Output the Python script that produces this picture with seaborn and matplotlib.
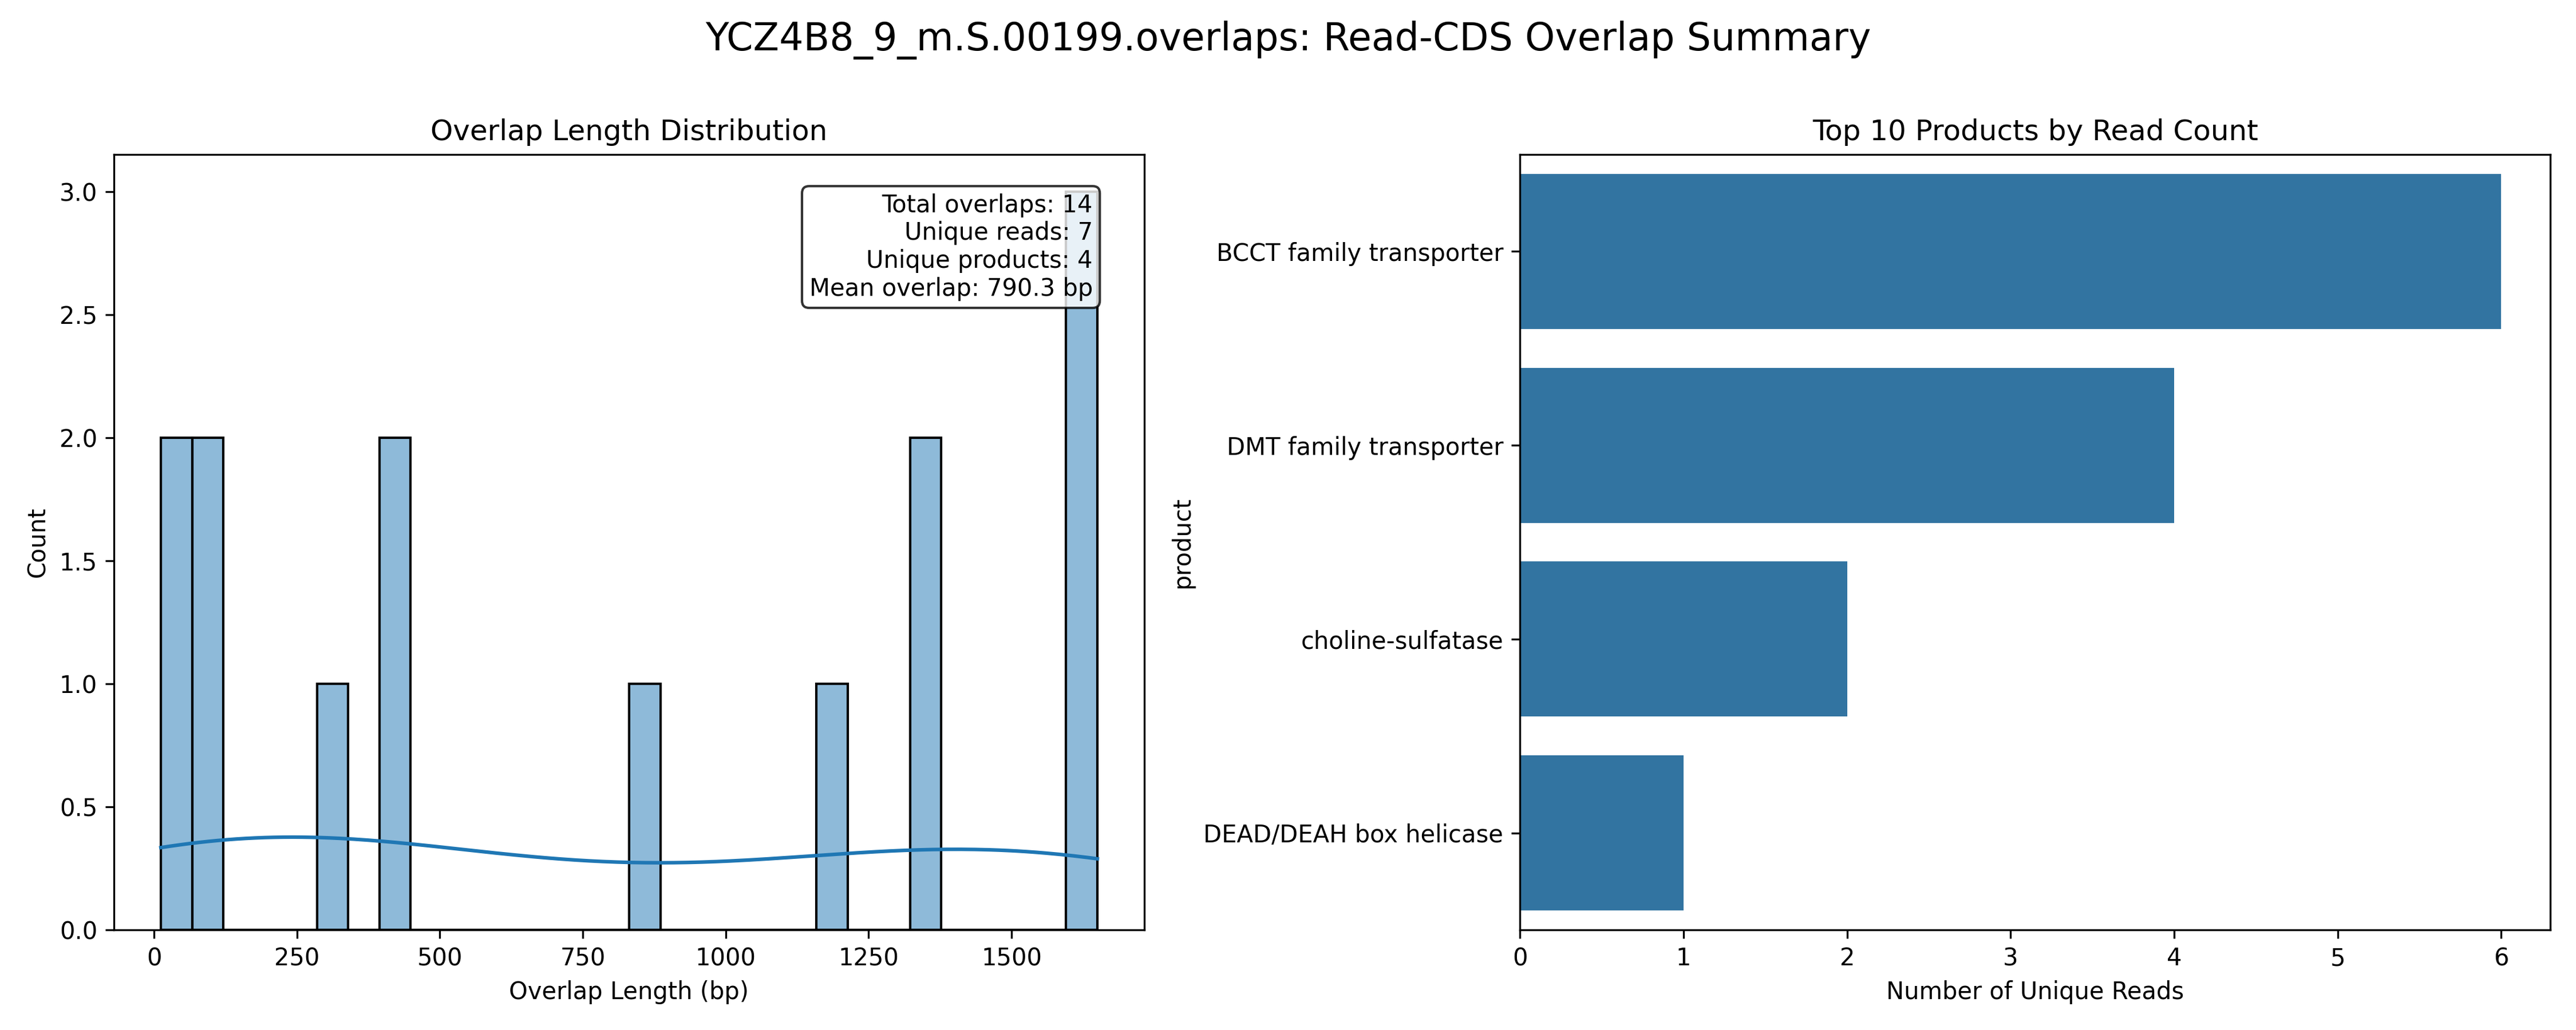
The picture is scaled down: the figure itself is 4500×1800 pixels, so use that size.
import matplotlib
matplotlib.use("Agg")
import matplotlib.pyplot as plt
import seaborn as sns
import pandas as pd
import numpy as np

overlap_lengths = [12, 40, 80, 100, 310, 410, 430, 860, 1190, 1350, 1372, 1620, 1640, 1650]
products = ["BCCT family transporter", "DMT family transporter", "choline-sulfatase", "DEAD/DEAH box helicase"]
read_counts = [6, 4, 2, 1]
n_reads = 7

fig, axes = plt.subplots(1, 2, figsize=(15, 6), dpi=300)
ax = axes[0]
sns.histplot(x=overlap_lengths, bins=30, kde=True, ax=ax)
ax.set_title("Overlap Length Distribution")
ax.set_xlabel("Overlap Length (bp)")
ax.set_ylabel("Count")
txt = (f"Total overlaps: {len(overlap_lengths)}\nUnique reads: {n_reads}\n"
       f"Unique products: {len(products)}\nMean overlap: {np.mean(overlap_lengths):.1f} bp")
ax.text(0.95, 0.95, txt, transform=ax.transAxes, ha="right", va="top",
        bbox=dict(boxstyle="round", facecolor="white", alpha=0.8))

df = pd.DataFrame({"product": products, "count": read_counts})
sns.barplot(data=df, y="product", x="count", ax=axes[1], color="#1f77b4")
axes[1].set_title("Top 10 Products by Read Count")
axes[1].set_xlabel("Number of Unique Reads")

fig.suptitle("YCZ4B8_9_m.S.00199.overlaps: Read-CDS Overlap Summary", fontsize=16)
plt.tight_layout()
fig.subplots_adjust(top=0.85)
fig.savefig("out.png")
